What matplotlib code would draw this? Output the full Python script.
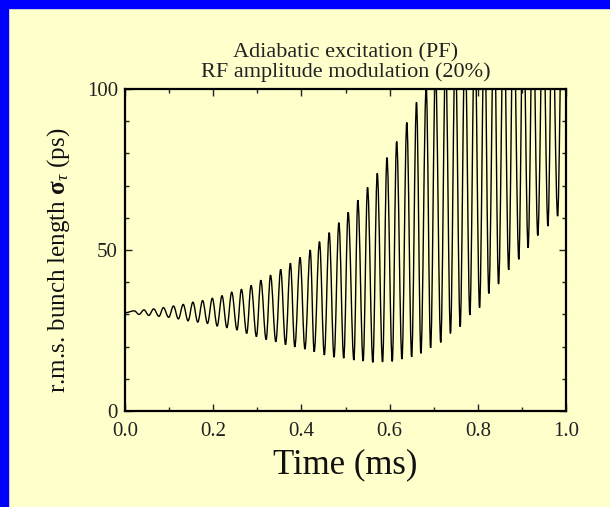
import numpy as np
import matplotlib
matplotlib.use('Agg')
import matplotlib.pyplot as plt
from matplotlib.patches import Rectangle, PathPatch
from matplotlib.path import Path
from matplotlib.ticker import MultipleLocator

plt.rcParams['font.family'] = ['Liberation Serif', 'DejaVu Serif']
plt.rcParams['mathtext.fontset'] = 'custom'
plt.rcParams['mathtext.rm'] = 'Liberation Serif'
plt.rcParams['mathtext.it'] = 'Liberation Serif:italic'
plt.rcParams['mathtext.bf'] = 'Liberation Serif:bold'

# 読み取った値: 振動の山と谷 (時間 ms, バンチ長 ps)
start_t = 0.0
start_sigma = 30.5

peak_t = [0.021, 0.043, 0.065, 0.087, 0.110, 0.132, 0.154, 0.176, 0.198, 0.220,
          0.242, 0.264, 0.286, 0.308, 0.330, 0.353, 0.375, 0.397, 0.420, 0.441,
          0.463, 0.485, 0.506, 0.528, 0.550, 0.572, 0.594, 0.616, 0.639, 0.661,
          0.683, 0.704, 0.727, 0.749, 0.771, 0.793, 0.815, 0.837, 0.859, 0.881,
          0.903, 0.925, 0.948, 0.969, 0.991]
peak_sigma = [31.1, 31.4, 31.7, 32.1, 32.6, 33.1, 33.8, 34.3, 35.0, 35.8,
              36.9, 37.8, 39.0, 40.6, 42.2, 44.0, 45.9, 47.7, 50.0, 52.6,
              55.4, 58.5, 61.7, 65.5, 69.5, 73.8, 78.7, 83.7, 89.6, 95.9,
              101, 106, 110, 114, 117, 120, 122, 124, 125, 126,
              127, 127, 127, 126, 125]

trough_t = [0.032, 0.054, 0.077, 0.099, 0.121, 0.143, 0.165, 0.187, 0.209, 0.231,
            0.254, 0.276, 0.298, 0.320, 0.342, 0.364, 0.385, 0.408, 0.429, 0.452,
            0.474, 0.496, 0.519, 0.540, 0.562, 0.584, 0.606, 0.628, 0.650, 0.671,
            0.693, 0.716, 0.738, 0.760, 0.782, 0.804, 0.825, 0.847, 0.870, 0.893,
            0.914, 0.936, 0.959, 0.981]
trough_sigma = [30.0, 29.7, 29.4, 29.1, 28.6, 28.0, 27.6, 27.2, 26.4, 25.9,
                25.2, 24.1, 23.1, 22.2, 21.5, 20.6, 19.9, 19.2, 18.4, 17.4,
                16.7, 16.4, 15.8, 15.5, 15.1, 15.2, 15.4, 16.1, 16.8, 17.9,
                19.6, 21.3, 24.1, 26.2, 29.8, 32.1, 36.5, 39.4, 43.8, 47.1,
                50.7, 54.5, 57.4, 60.5]

t = np.array([start_t] + peak_t + trough_t)
sigma = np.array([start_sigma] + peak_sigma + trough_sigma)
order = np.argsort(t)
t = t[order]
sigma = sigma[order]

bg = '#FFFFCC'
fig = plt.figure(figsize=(6.1, 5.07), dpi=100, facecolor=bg)
# 青い枠 (上と左)
fig.add_artist(Rectangle((0, 1 - 8 / 507), 1, 8 / 507, transform=fig.transFigure,
                         color='#0000FF', zorder=0))
fig.add_artist(Rectangle((0, 0), 8 / 610, 1, transform=fig.transFigure,
                         color='#0000FF', zorder=0))

ax = fig.add_axes([125 / 610, 96 / 507, 441 / 610, 322 / 507])
ax.set_facecolor(bg)

# 山と谷を水平接線のベジェ曲線でつなぐ
verts = [(t[0], sigma[0])]
codes = [Path.MOVETO]
for i in range(len(t) - 1):
    dt = t[i + 1] - t[i]
    verts += [(t[i] + 0.36 * dt, sigma[i]),
              (t[i + 1] - 0.36 * dt, sigma[i + 1]),
              (t[i + 1], sigma[i + 1])]
    codes += [Path.CURVE4] * 3
ax.add_patch(PathPatch(Path(verts, codes), facecolor='none', edgecolor='black',
                       lw=1.0))

ax.set_xlim(0, 1)
ax.set_ylim(0, 100)
ax.xaxis.set_major_locator(MultipleLocator(0.2))
ax.xaxis.set_minor_locator(MultipleLocator(0.1))
ax.yaxis.set_major_locator(MultipleLocator(50))
ax.yaxis.set_minor_locator(MultipleLocator(10))
ax.set_xticks([0, 0.2, 0.4, 0.6, 0.8, 1.0])
ax.set_xticklabels(['0.0', '0.2', '0.4', '0.6', '0.8', '1.0'])
ax.tick_params(which='both', direction='in', top=True, right=True, labelsize=15,
               colors='#222222')
ax.tick_params(axis='x', pad=8)
ax.tick_params(axis='y', pad=5)
ax.tick_params(which='major', length=5, width=1)
ax.tick_params(which='minor', length=3, width=1)
for sp in ax.spines.values():
    sp.set_linewidth(1.6)

ax.set_xlabel('Time (ms)', fontsize=25, labelpad=5, color='#111111')
ax.set_ylabel(r'r.m.s. bunch length $\mathbf{\sigma}_{\tau}$ (ps)', fontsize=18,
              color='#111111')
ax.yaxis.set_label_coords(-0.12, 0.469)
ax.set_title('Adiabatic excitation (PF)\nRF amplitude modulation (20%)',
             fontsize=16, linespacing=0.95, pad=9, color='#222222')

fig.savefig('out.png', dpi=100, facecolor=bg)
